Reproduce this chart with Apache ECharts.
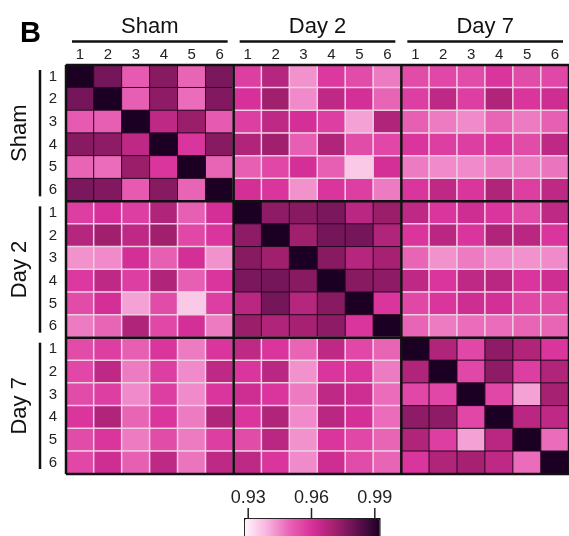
<!DOCTYPE html>
<html>
<head>
<meta charset="utf-8">
<script src="https://cdn.jsdelivr.net/npm/echarts@6/dist/echarts.min.js"></script>
<style>
  html, body { margin: 0; padding: 0; background: #fff; }
  #chart { width: 569px; height: 536px; }
</style>
</head>
<body>
<div id="chart"></div>
<script>
// groups and samples
var groups = ['Sham', 'Day 2', 'Day 7'];
var samples = ['1', '2', '3', '4', '5', '6'];

// correlation blocks (upper triangle of the 18x18 matrix), rows x cols
var shamSham = [
  [1.000, 0.978, 0.951, 0.975, 0.949, 0.977],
  [0.978, 1.000, 0.950, 0.974, 0.948, 0.976],
  [0.951, 0.950, 1.000, 0.965, 0.972, 0.951],
  [0.975, 0.974, 0.965, 1.000, 0.959, 0.975],
  [0.949, 0.948, 0.972, 0.959, 1.000, 0.949],
  [0.977, 0.976, 0.951, 0.975, 0.949, 1.000]
];
var shamDay2 = [
  [0.957, 0.967, 0.943, 0.958, 0.954, 0.946],
  [0.960, 0.971, 0.944, 0.965, 0.961, 0.949],
  [0.957, 0.965, 0.961, 0.957, 0.941, 0.968],
  [0.968, 0.971, 0.950, 0.968, 0.954, 0.955],
  [0.950, 0.955, 0.961, 0.950, 0.935, 0.961],
  [0.961, 0.959, 0.943, 0.959, 0.957, 0.946]
];
var shamDay7 = [
  [0.954, 0.955, 0.954, 0.959, 0.954, 0.955],
  [0.957, 0.965, 0.957, 0.968, 0.959, 0.962],
  [0.950, 0.946, 0.944, 0.949, 0.946, 0.950],
  [0.959, 0.957, 0.957, 0.959, 0.954, 0.965],
  [0.946, 0.944, 0.944, 0.946, 0.946, 0.947],
  [0.959, 0.965, 0.959, 0.968, 0.957, 0.965]
];
var day2Day2 = [
  [1.000, 0.974, 0.975, 0.977, 0.966, 0.972],
  [0.974, 1.000, 0.971, 0.978, 0.978, 0.968],
  [0.975, 0.971, 1.000, 0.975, 0.967, 0.970],
  [0.977, 0.978, 0.975, 1.000, 0.975, 0.974],
  [0.966, 0.978, 0.967, 0.975, 1.000, 0.959],
  [0.972, 0.968, 0.970, 0.974, 0.959, 1.000]
];
var day2Day7 = [
  [0.965, 0.959, 0.962, 0.959, 0.954, 0.965],
  [0.959, 0.966, 0.959, 0.968, 0.966, 0.959],
  [0.949, 0.943, 0.946, 0.944, 0.943, 0.944],
  [0.965, 0.959, 0.965, 0.966, 0.959, 0.962],
  [0.955, 0.959, 0.962, 0.961, 0.955, 0.954],
  [0.949, 0.946, 0.948, 0.948, 0.949, 0.949]
];
var day7Day7 = [
  [1.000, 0.968, 0.955, 0.974, 0.968, 0.959],
  [0.968, 1.000, 0.955, 0.974, 0.957, 0.968],
  [0.955, 0.955, 1.000, 0.955, 0.941, 0.970],
  [0.974, 0.974, 0.955, 1.000, 0.966, 0.965],
  [0.968, 0.957, 0.941, 0.966, 1.000, 0.948],
  [0.959, 0.968, 0.970, 0.965, 0.948, 1.000]
];

// colour bar
var scaleTicks = [0.93, 0.96, 0.99];
var scaleColors = ['#fff4fb', '#f7b2de', '#e862b5', '#d8309a', '#a3206f', '#601050', '#1c0024'];

var font = 'Liberation Sans, Arial, sans-serif';

var blocks = [
  [shamSham, shamDay2, shamDay7],
  [null, day2Day2, day2Day7],
  [null, null, day7Day7]
];
function cell(bi, bj, i, j) {
  if (bi <= bj) return blocks[bi][bj][i][j];
  return blocks[bj][bi][j][i];
}

var cats = [];
groups.forEach(function (g) {
  samples.forEach(function (s) { cats.push(g + '|' + s); });
});

var data = [];
for (var bi = 0; bi < 3; bi++) {
  for (var bj = 0; bj < 3; bj++) {
    for (var i = 0; i < 6; i++) {
      for (var j = 0; j < 6; j++) {
        var diag = bi === bj;
        data.push({
          value: [bj * 6 + j, bi * 6 + i, cell(bi, bj, i, j)],
          itemStyle: diag
            ? { borderColor: '#2a0a22', borderWidth: 1 }
            : { borderColor: '#ecd0e2', borderWidth: 1.5 }
        });
      }
    }
  }
}

var chart = echarts.init(document.getElementById('chart'));
chart.setOption({
  animation: false,
  title: {
    text: 'B', left: 15, top: 14,
    textStyle: { fontFamily: font, fontSize: 29, fontWeight: 'bold', color: '#000' }
  },
  grid: [
    { left: 66, top: 65, width: 505, height: 409 },
    { left: 248.2, top: 518, width: 126.6, height: 20 }
  ],
  xAxis: [{
    type: 'category', data: cats, position: 'top', gridIndex: 0,
    axisLine: { show: false }, axisTick: { show: false }, splitLine: { show: false },
    axisLabel: {
      fontFamily: font, fontSize: 15, color: '#222', margin: 2.5, interval: 0,
      formatter: function (v) { return v.split('|')[1]; }
    }
  }, {
    type: 'category', data: groups, position: 'top', gridIndex: 0, offset: 21,
    axisLine: { show: false }, axisTick: { show: false }, splitLine: { show: false },
    axisLabel: { fontFamily: font, fontSize: 22, color: '#111', margin: 6 }
  }, {
    type: 'value', gridIndex: 1, position: 'top', min: 0.93, max: 0.99, interval: 0.03,
    axisLine: { show: false }, splitLine: { show: false }, axisTick: { show: false },
    axisLabel: {
      fontFamily: font, fontSize: 18, color: '#222', margin: 11,
      formatter: function (v) { return v.toFixed(2); }
    }
  }],
  yAxis: [{
    type: 'category', data: cats, inverse: true, gridIndex: 0,
    axisLine: { show: false }, axisTick: { show: false }, splitLine: { show: false },
    axisLabel: {
      fontFamily: font, fontSize: 15, color: '#222', margin: 9, interval: 0,
      formatter: function (v) { return v.split('|')[1]; }
    }
  }, {
    type: 'value', gridIndex: 1, show: false
  }],
  visualMap: {
    type: 'continuous', seriesIndex: 0, min: 0.928, max: 0.992,
    orient: 'horizontal', left: 244, top: 518, itemWidth: 20, itemHeight: 135,
    calculable: false, hoverLink: false, padding: 0,
    borderColor: '#111', borderWidth: 1.5,
    text: null,
    inRange: { color: scaleColors }
  },
  series: [{
    type: 'heatmap', xAxisIndex: 0, yAxisIndex: 0,
    data: data,
    emphasis: { disabled: true },
    label: { show: false }
  }]
});

// block frames, group rules, side labels and colour-bar ticks placed from the axis scales
var xs = [], ys = [];
for (var k = 0; k < 18; k++) {
  xs.push(chart.convertToPixel({ xAxisIndex: 0 }, k));
  ys.push(chart.convertToPixel({ yAxisIndex: 0 }, k));
}
var hx = (xs[1] - xs[0]) / 2, hy = (ys[1] - ys[0]) / 2;
var xe = [xs[0] - hx, xs[6] - hx, xs[12] - hx, xs[17] + hx];
var ye = [ys[0] - hy, ys[6] - hy, ys[12] - hy, ys[17] + hy];

var g = [];
var frame = { stroke: '#111', lineWidth: 2.5 };
for (var m = 0; m < 4; m++) {
  g.push({ type: 'line', z: 10, shape: { x1: xe[m], y1: ye[0], x2: xe[m], y2: ye[3] }, style: frame });
  g.push({ type: 'line', z: 10, shape: { x1: xe[0], y1: ye[m], x2: xe[3], y2: ye[m] }, style: frame });
}
for (var b = 0; b < 3; b++) {
  g.push({ type: 'line', shape: { x1: xe[b] + 6, y1: 41.5, x2: xe[b + 1] - 6, y2: 41.5 },
    style: { stroke: '#111', lineWidth: 2.5 } });
  g.push({ type: 'line', shape: { x1: 40, y1: ye[b] + 5, x2: 40, y2: ye[b + 1] - 5 },
    style: { stroke: '#111', lineWidth: 2.5 } });
  g.push({ type: 'text', x: 20, y: (ye[b] + ye[b + 1]) / 2, rotation: Math.PI / 2,
    style: { text: groups[b], fill: '#111', font: '22px ' + font, align: 'center', verticalAlign: 'middle' } });
}
scaleTicks.forEach(function (t) {
  var tx = chart.convertToPixel({ xAxisIndex: 2 }, t);
  g.push({ type: 'line', z: 10, shape: { x1: tx, y1: 508, x2: tx, y2: 519 },
    style: { stroke: '#222', lineWidth: 1.5 } });
});
chart.setOption({ graphic: g });
</script>
</body>
</html>
